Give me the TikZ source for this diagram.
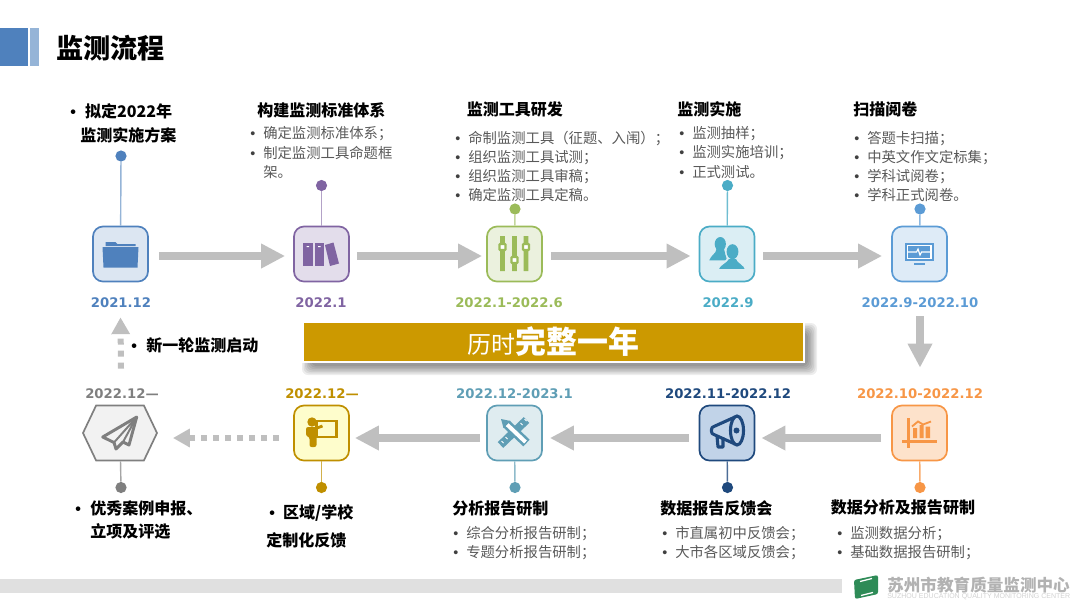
\documentclass[tikz,border=0pt]{standalone}
\usepackage{xcolor}
\usepackage{fontspec}
\setmainfont{Noto Sans CJK SC}
\newfontfamily\datefont{DejaVu Sans}
\newfontfamily\latinfont{Liberation Sans}
\usetikzlibrary{arrows.meta, positioning, shapes.symbols}

\definecolor{cblue}{HTML}{4F81BD}
\definecolor{cpurple}{HTML}{8064A2}
\definecolor{cgreen}{HTML}{9BBB59}
\definecolor{ccyan}{HTML}{4BACC6}
\definecolor{csky}{HTML}{5B9BD5}
\definecolor{corange}{HTML}{F79646}
\definecolor{cnavy}{HTML}{1F497D}
\definecolor{cteal}{HTML}{5F9EB5}
\definecolor{cgold}{HTML}{BF8F00}
\definecolor{cgray}{HTML}{7F7F7F}
\definecolor{bannergold}{HTML}{CC9900}
\definecolor{arrowgray}{HTML}{BFBFBF}
\definecolor{bodygray}{HTML}{595959}
\definecolor{logogreen}{HTML}{2E8B57}

\newcommand{\bul}{{\latinfont •}}
\newcommand{\li}[1]{\makebox[0.325cm][l]{\textcolor{black!75}{\bul}}#1}

\begin{document}
\begin{tikzpicture}[
  x=0.025cm, y=-0.025cm,
  iconbox/.style={rectangle, rounded corners=0.25cm, line width=1.2pt, minimum size=1.375cm, inner sep=0},
  dot/.style={circle, minimum size=0.28cm, inner sep=0},
  stem/.style={line width=1pt},
  datelabel/.style={font=\datefont\fontsize{9.4}{11}\selectfont\bfseries, inner sep=0},
  headline/.style={anchor=west, inner sep=0, align=left, text=black, font=\fontsize{11.4}{17}\selectfont\bfseries},
  bodytext/.style={anchor=west, inner sep=0, align=left, text=bodygray, font=\fontsize{10.2}{13.7}\selectfont},
  flow/.style={-{Triangle[length=0.6cm, width=0.58cm]}, line width=0.2cm, draw=arrowgray},
  dashflow/.style={-{Triangle[length=0.42cm, width=0.44cm]}, line width=0.15cm, draw=arrowgray, dash pattern=on 0.15cm off 0.15cm}
]
\useasboundingbox (0,0) rectangle (1080,608);

% Header and footer
\fill[cblue] (0,28) rectangle (28,66);
\fill[cblue!60] (30,28) rectangle (39,66);
\node[anchor=west, inner sep=0, font=\fontsize{19.3}{22}\selectfont\bfseries] (title) at (56,48) {监测流程};
\fill[black!12] (0,579) rectangle (842,593);

% Icon boxes, top row
\node[iconbox, draw=cblue, fill=cblue!20]     (plan)    at (120.5,254) {};
\node[iconbox, draw=cpurple, fill=cpurple!22] (system)  at (321.5,254) {};
\node[iconbox, draw=cgreen, fill=cgreen!20]   (tool)    at (514.5,254) {};
\node[iconbox, draw=ccyan, fill=ccyan!20]     (survey)  at (727,254)   {};
\node[iconbox, draw=csky, fill=csky!20]       (scan)    at (919.5,254) {};
% Icon boxes, bottom row
\node[iconbox, draw=corange, fill=corange!28] (analyse) at (919.5,433) {};
\node[iconbox, draw=cnavy, fill=cblue!35]     (meeting) at (727,433)   {};
\node[iconbox, draw=cteal, fill=cteal!20]     (report)  at (514.5,433) {};
\node[iconbox, draw=cgold, fill=cgold!10!yellow!20] (custom) at (321.5,433) {};
\node[signal, signal to=east and west, signal pointer angle=129, draw=cgray, fill=black!5, line width=1.2pt,
      minimum width=1.85cm, minimum height=1.375cm, inner sep=0] (award) at (120,433) {};

% Dots and stems
\node[dot, fill=cblue]   (dplan)    at (121,156)   {};
\node[dot, fill=cpurple] (dsystem)  at (321.5,185.5) {};
\node[dot, fill=cgreen]  (dtool)    at (515,209)   {};
\node[dot, fill=ccyan]   (dsurvey)  at (727.5,185.5) {};
\node[dot, fill=csky]    (dscan)    at (920,209)   {};
\node[dot, fill=corange] (danalyse) at (920,487.5) {};
\node[dot, fill=cnavy]   (dmeeting) at (727.5,487.5) {};
\node[dot, fill=cteal]   (dreport)  at (515,487.5) {};
\node[dot, fill=cgold]   (dcustom)  at (321.5,487.5) {};
\node[dot, fill=cgray]   (daward)   at (121,487.5) {};
\draw[stem, cblue!60]   (dplan) -- (plan);
\draw[stem, cpurple!60] (dsystem) -- (system);
\draw[stem, cgreen!60]  (dtool) -- (tool);
\draw[stem, ccyan!80]   (dsurvey) -- (survey);
\draw[stem, csky!70]    (dscan) -- (scan);
\draw[stem, corange!80] (danalyse) -- (analyse);
\draw[stem, cnavy!80]   (dmeeting) -- (meeting);
\draw[stem, cteal!70]   (dreport) -- (report);
\draw[stem, cgold!70]   (dcustom) -- (custom);
\draw[stem, cgray!70]   (daward) -- (award);

% Dates
\node[datelabel, text=cblue]   (tplan)    at (121,302.5) {2021.12};
\node[datelabel, text=cpurple] (tsystem)  at (321,302.5) {2022.1};
\node[datelabel, text=cgreen]  (ttool)    at (509,302.5) {2022.1-2022.6};
\node[datelabel, text=ccyan]   (tsurvey)  at (728,302.5) {2022.9};
\node[datelabel, text=csky]    (tscan)    at (920,302.5) {2022.9-2022.10};
\node[datelabel, text=corange] (tanalyse) at (920,394)   {2022.10-2022.12};
\node[datelabel, text=cnavy]   (tmeeting) at (728,394)   {2022.11-2022.12};
\node[datelabel, text=cteal]   (treport)  at (514.5,394) {2022.12-2023.1};
\node[datelabel, text=cgold]   (tcustom)  at (322,394)   {2022.12—};
\node[datelabel, text=cgray]   (taward)   at (122,394)   {2022.12—};

% Flow arrows
\draw[flow] ([shift={(10,2)}]plan.east)    -- ([shift={(-8,2)}]system.west);
\draw[flow] ([shift={(7,2)}]system.east)   -- ([shift={(-4,2)}]tool.west);
\draw[flow] ([shift={(8,2)}]tool.east)     -- ([shift={(-8,2)}]survey.west);
\draw[flow] ([shift={(8,2)}]survey.east)   -- ([shift={(-9,2)}]scan.west);
\draw[flow] ([shift={(0.5,34)}]scan.south) -- ([shift={(0.5,-37)}]analyse.north);
\draw[flow] ([shift={(-10,5)}]analyse.west) -- ([shift={(6,5)}]meeting.east);
\draw[flow] ([shift={(-10,5)}]meeting.west) -- ([shift={(7,5)}]report.east);
\draw[flow] ([shift={(-6,5)}]report.west)  -- ([shift={(5,5)}]custom.east);
\draw[dashflow] ([shift={(-14,5)}]custom.west) -- ([shift={(15,5)}]award.east);
\draw[dashflow] ([shift={(1,-36)}]award.north) -- ([shift={(0,35)}]plan.south);

% Banner with a soft shadow
\foreach \s in {0,1.5,...,9}
  \fill[black, opacity=0.07, rounded corners=0.15cm] (311-\s,332-\s) rectangle (808+\s,366+\s);
\node[rectangle, draw=white, line width=1.4pt, fill=bannergold, minimum width=12.5cm, minimum height=1cm, text=white] (banner) at (553.5,342)
      {\fontsize{17}{20}\selectfont 历时\fontsize{22}{24}\selectfont\bfseries 完整一年};

% Top texts
\node[headline] (hplan) at (70,123) {\makebox[0.37cm][l]{\bul}拟定2022年\\\hspace*{0.25cm}监测实施方案};
\node[headline] (hsystem) at (257,110) {构建监测标准体系};
\node[bodytext] (bsystem) at (250,152.5) {\li{确定监测标准体系；}\\\li{制定监测工具命题框}\\\hspace*{0.325cm}架。};
\node[headline] (htool) at (466.5,109) {监测工具研发};
\node[bodytext] (btool) at (455,166.5) {\li{命制监测工具（征题、入闱）；}\\\li{组织监测工具试测；}\\\li{组织监测工具审稿；}\\\li{确定监测工具定稿。}};
\node[headline] (hsurvey) at (677,109) {监测实施};
\node[bodytext] (bsurvey) at (679,152.5) {\li{监测抽样；}\\\li{监测实施培训；}\\\li{正式测试。}};
\node[headline] (hscan) at (853,109) {扫描阅卷};
\node[bodytext] (bscan) at (854,166.5) {\li{答题卡扫描；}\\\li{中英文作文定标集；}\\\li{学科试阅卷；}\\\li{学科正式阅卷。}};

% Bottom texts
\node[headline] (hanalyse) at (830.5,507) {数据分析及报告研制};
\node[bodytext] (banalyse) at (837,543) {\li{监测数据分析；}\\\li{基础数据报告研制；}};
\node[headline] (hmeeting) at (660,508) {数据报告反馈会};
\node[bodytext] (bmeeting) at (662,543) {\li{市直属初中反馈会；}\\\li{大市各区域反馈会；}};
\node[headline] (hreport) at (452,508) {分析报告研制};
\node[bodytext] (breport) at (453,543) {\li{综合分析报告研制；}\\\li{专题分析报告研制；}};
\node[headline, font=\fontsize{11.4}{19.5}\selectfont\bfseries] (hcustom) at (266,526.5) {\hspace*{0.075cm}\makebox[0.345cm][l]{\bul}区域/学校\\定制化反馈};
\node[headline, font=\fontsize{11.4}{16}\selectfont\bfseries] (haward) at (75,520) {\makebox[0.375cm][l]{\bul}优秀案例申报、\\\hspace*{0.375cm}立项及评选};
\node[headline] (hnext) at (131,345) {\makebox[0.375cm][l]{\bul}新一轮监测启动};

% Logo
\fill[logogreen, rounded corners=1.5pt] (854,580) -- (878,575) -- (878,594) -- (855,599) -- cycle;
\draw[white, line width=0.9pt] (860,581.5) -- (872,578.5) (861,595.5) -- (873,592.5);
\node[anchor=west, inner sep=0, text=black!30, font=\fontsize{11.8}{14}\selectfont\bfseries] (logoname) at (887,585) {苏州市教育质量监测中心};
\node[anchor=west, inner sep=0, text=black!18, font=\latinfont\fontsize{5}{6}\selectfont] (logosub) at (887,597) {SUZHOU EDUCATION QUALITY MONITORING CENTER};

% Folder
\begin{scope}[shift={(plan.center)}]
  \fill[cblue] (-15,-8) -- (-15,-12) -- (-5,-12) -- (-3,-10) -- (15,-10) -- (15,-8) -- cycle;
  \fill[cblue] (-18,-7) -- (18,-7) -- (17,13.5) -- (-17,13.5) -- cycle;
\end{scope}
% Books
\begin{scope}[shift={(system.center)}]
  \fill[cpurple] (-18.5,-11.5) rectangle (-9,12);
  \fill[cpurple] (-7,-11.5) rectangle (2.5,12);
  \fill[cpurple] (3.5,-9) -- (12,-11.5) -- (17.5,9.5) -- (8.5,12) -- cycle;
  \fill[white] (-15,-8) rectangle (-12.5,-7) (-3.5,-8) rectangle (-1,-7);
\end{scope}
% Sliders
\begin{scope}[shift={(tool.center)}]
  \fill[cgreen] (-14.3,-18) rectangle (-9.7,17) (-2.3,-18) rectangle (2.3,17) (9.2,-18) rectangle (13.8,17);
  \draw[cgreen, fill=white, line width=1.6pt, rounded corners=0.5pt] (-15,-10) rectangle (-9,-4) (-3,3) rectangle (3,9) (8.5,-10) rectangle (14.5,-4);
\end{scope}
% People
\begin{scope}[shift={(survey.center)}]
  \fill[ccyan] (-6.7,-10) ellipse[x radius=5.6, y radius=7];
  \fill[ccyan] (-17.7,6.3) .. controls (-16,1) and (-11,0) .. (-10.5,-5) -- (-3,-5) -- (0,6.3) -- cycle;
  \filldraw[ccyan, draw=ccyan!20, line width=1.2pt] (5.5,-2.3) ellipse[x radius=6.4, y radius=8];
  \filldraw[ccyan, draw=ccyan!20, line width=1.2pt] (-9.5,16) .. controls (-8,10) and (-1,9) .. (1.5,4) -- (9.5,4) .. controls (11,9) and (18,10) .. (19,16) -- cycle;
  \fill[ccyan] (5.5,-2.3) ellipse[x radius=5.9, y radius=7.5];
\end{scope}
% Monitor
\begin{scope}[shift={(scan.center)}]
  \fill[csky] (-14.5,-11.5) rectangle (14,7);
  \fill[csky] (-5.5,9) rectangle (5,10.5);
  \draw[white, line width=0.8pt] (-12,-8.5) -- (11.5,-8.5) -- (11.5,4.5) -- (-12,4.5) -- cycle;
  \draw[white, line width=0.8pt] (-12,-2) -- (-3,-2) -- (-1.5,-5) -- (0.5,1) -- (2,-2) -- (11.5,-2);
\end{scope}
% Chart
\begin{scope}[shift={(analyse.center)}]
  \draw[corange, line width=1.7pt] (-11,-15) -- (-11,15) (-17.5,8.5) -- (17.5,8.5);
  \fill[corange] (-6.5,-5) rectangle (-2.5,5) (0,-8) rectangle (4,5) (6,-6.5) rectangle (10.5,5);
  \draw[corange, line width=1.3pt] (-7.5,-6.5) -- (-1.5,-11.5) -- (3.5,-8.5) -- (11.5,-11.5);
\end{scope}
% Megaphone
\begin{scope}[shift={(meeting.center)}]
  \draw[cnavy, line width=2.2pt, line join=round] (8,-16) -- (-12,-7) .. controls (-17,-7) and (-17,2) .. (-12,2) -- (8,11);
  \draw[cnavy, line width=2.2pt] (10,-2.5) ellipse[x radius=6.5, y radius=14.5];
  \draw[cnavy, line width=2.2pt, line join=round] (-10,3) -- (-9,14) -- (-4,14) -- (-4,4.5);
  \fill[cnavy] (9.5,-2.5) circle[radius=3];
\end{scope}
% Ruler and pencil
\begin{scope}[shift={(report.center)}]
  \draw[cteal, line width=0.2cm] (-14,12) -- (12,-13);
  \draw[white, line width=0.6pt] (-13,8) -- (-11,10) (-9,4) -- (-7,6) (6,-10) -- (8,-8) (10,-14) -- (12,-12);
  \draw[cteal, line width=0.23cm] (-8,-9) -- (12,10);
  \draw[white, line width=0.1cm] (-8,-9) -- (11,9);
  \fill[cteal] (-13.5,-14) -- (-4,-12) -- (-11,-5) -- cycle;
\end{scope}
% Teacher
\begin{scope}[shift={(custom.center)}]
  \draw[cgold, line width=2pt] (-5,-12) rectangle (15,4);
  \fill[cgold] (-9.5,-11) circle[radius=4.7];
  \fill[cgold, rounded corners=1.5pt] (-15.5,-6) -- (-5,-6) -- (-5,14) -- (-12,14) -- (-12,4) -- (-15.5,3) -- cycle;
  \draw[cgold, line width=2pt] (-6,-4.5) -- (1,-7);
\end{scope}
% Paper plane
\begin{scope}[shift={(award.center)}]
  \draw[cgray, line width=2.1pt, line join=round] (16.7,-16) -- (-17.3,4) -- (-6,9.5) -- (-4,16) -- (3,9) -- (9,12) -- cycle;
  \draw[cgray, line width=1.4pt] (16.7,-16) -- (-6,9.5) (16.7,-16) -- (3,9);
\end{scope}

\end{tikzpicture}
\end{document}
